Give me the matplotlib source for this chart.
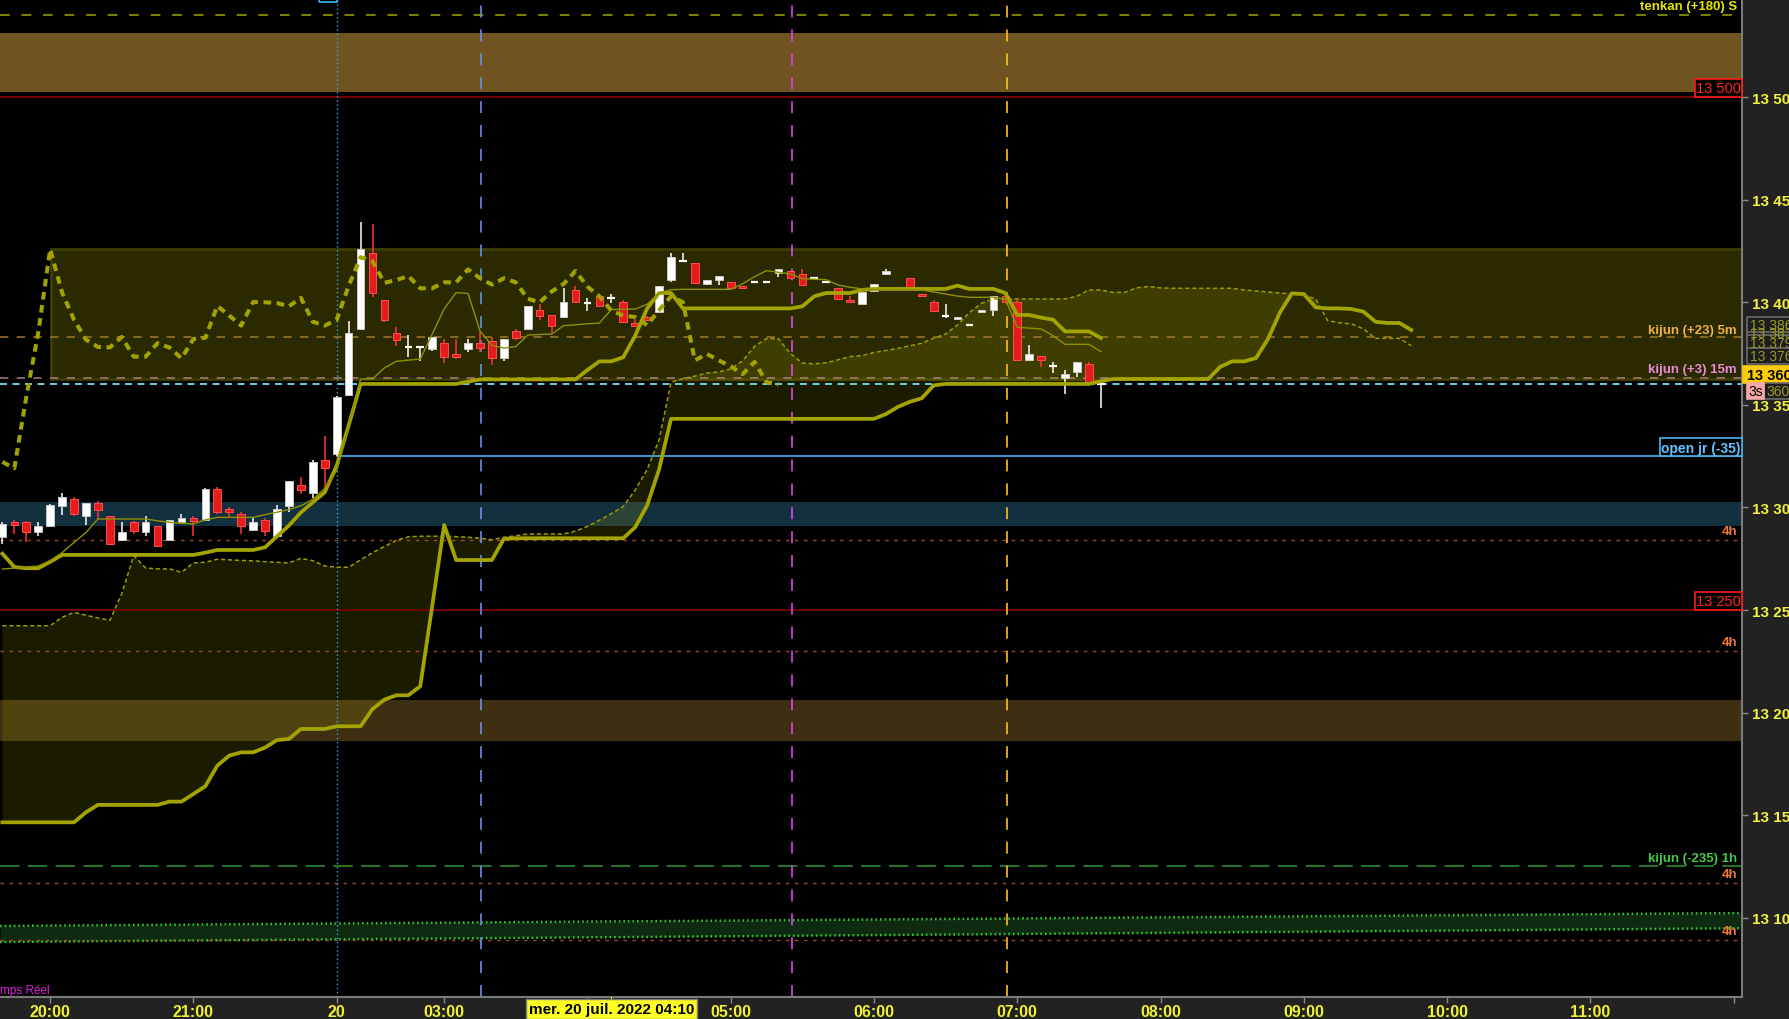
import matplotlib
matplotlib.use('Agg')
import matplotlib.pyplot as plt
from matplotlib.patches import Rectangle
import numpy as np

plt.rcParams['lines.scale_dashes'] = False
plt.rcParams['font.family'] = ['Liberation Sans', 'DejaVu Sans']
NARROW = ['Liberation Sans', 'DejaVu Sans']

# ---------------------------------------------------------------- data
# 5-minute bars, x = slot index (slot 0 = 20:00, slot 24 = day open "20")
bar_slot = list(range(-4, 71)) + list(range(72, 89))

opens = [13285.5, 13293.1, 13292.8, 13288.2, 13291.1, 13300.6, 13304.1, 13296.0, 13302.2, 13295.7,
         13284.3, 13292.9, 13288.2, 13290.8, 13284.3, 13292.8, 13294.9, 13294.1, 13309.0, 13299.3,
         13296.8, 13289.2, 13293.9, 13286.3, 13300.6, 13311.0, 13307.1, 13323.1, 13326.1, 13355.0,
         13387.0, 13424.0, 13401.1, 13385.0, 13378.2, 13378.0, 13377.4, 13380.1, 13374.8, 13377.4,
         13380.1, 13381.1, 13373.0, 13385.8, 13387.1, 13396.2, 13393.8, 13393.0, 13406.0, 13399.6,
         13402.9, 13402.2, 13400.0, 13389.7, 13392.8, 13395.4, 13410.8, 13419.9, 13419.1, 13408.9,
         13410.8, 13409.9, 13407.8, 13409.7, 13409.7, 13414.1, 13415.1, 13413.8, 13411.7, 13409.7,
         13406.8, 13401.3, 13399.2, 13405.3, 13413.9, 13411.7, 13403.9, 13400.1, 13393.5, 13391.8,
         13388.8, 13395.4, 13396.4, 13402.9, 13400.0, 13372.0, 13373.6, 13368.8, 13363.3, 13366.2,
         13369.8, 13360.0]
highs = [13292.8, 13294.1, 13293.6, 13293.1, 13301.7, 13307.1, 13305.0, 13302.2, 13303.3, 13296.0,
         13293.1, 13293.6, 13295.7, 13291.1, 13294.1, 13296.8, 13296.0, 13309.3, 13309.8, 13300.1,
         13297.6, 13294.7, 13294.7, 13301.2, 13313.1, 13314.7, 13323.3, 13334.8, 13354.2, 13390.7,
         13438.9, 13438.1, 13401.3, 13387.8, 13384.0, 13378.0, 13383.2, 13382.1, 13382.1, 13382.1,
         13385.3, 13382.9, 13382.1, 13387.0, 13398.3, 13399.0, 13393.8, 13406.8, 13407.8, 13402.2,
         13403.9, 13404.0, 13401.1, 13391.8, 13393.5, 13407.9, 13424.0, 13424.0, 13419.1, 13410.8,
         13412.8, 13409.9, 13407.8, 13409.7, 13409.7, 13416.0, 13415.1, 13416.2, 13411.7, 13409.7,
         13406.8, 13403.2, 13405.2, 13408.9, 13416.2, 13411.7, 13403.9, 13401.1, 13399.2, 13392.8,
         13388.8, 13396.2, 13403.2, 13402.9, 13401.1, 13379.2, 13373.6, 13371.0, 13367.2, 13370.9,
         13370.7, 13360.0]
lows = [13282.2, 13287.1, 13283.0, 13286.0, 13290.8, 13296.5, 13295.7, 13291.5, 13294.4, 13281.9,
        13283.8, 13287.1, 13286.0, 13280.9, 13284.2, 13292.4, 13286.0, 13293.6, 13296.8, 13294.7,
        13287.1, 13288.7, 13286.0, 13286.0, 13297.6, 13306.6, 13304.5, 13309.0, 13325.3, 13354.5,
        13386.6, 13402.7, 13390.5, 13378.8, 13373.5, 13371.5, 13376.1, 13370.4, 13372.4, 13375.9,
        13375.6, 13369.6, 13371.5, 13381.8, 13386.6, 13391.5, 13384.5, 13392.5, 13399.6, 13395.9,
        13397.7, 13399.6, 13390.2, 13388.6, 13391.0, 13395.4, 13409.7, 13419.8, 13409.5, 13408.4,
        13408.4, 13406.8, 13406.8, 13409.7, 13409.7, 13412.5, 13411.7, 13408.6, 13411.7, 13409.7,
        13401.7, 13400.0, 13398.7, 13404.8, 13413.3, 13407.6, 13402.9, 13395.1, 13392.3, 13391.5,
        13388.8, 13394.8, 13393.5, 13400.0, 13371.4, 13371.5, 13368.6, 13365.5, 13355.3, 13363.7,
        13360.7, 13348.6]
closes = [13292.0, 13291.6, 13287.9, 13290.8, 13301.2, 13305.0, 13296.7, 13302.2, 13298.9, 13282.1,
          13288.2, 13288.7, 13292.8, 13281.1, 13293.9, 13294.9, 13293.6, 13309.0, 13297.6, 13297.6,
          13290.8, 13293.1, 13288.7, 13299.3, 13312.9, 13308.7, 13322.2, 13319.1, 13353.8, 13385.0,
          13425.9, 13404.7, 13391.5, 13381.8, 13378.2, 13378.0, 13383.1, 13373.5, 13373.5, 13380.1,
          13377.9, 13372.7, 13382.1, 13382.7, 13398.2, 13393.5, 13388.6, 13400.1, 13400.0, 13399.6,
          13398.0, 13402.2, 13390.5, 13388.6, 13391.5, 13407.9, 13422.0, 13419.9, 13409.5, 13410.8,
          13412.8, 13406.8, 13406.8, 13409.7, 13409.7, 13416.0, 13411.7, 13408.6, 13411.7, 13409.7,
          13401.7, 13400.0, 13405.2, 13408.9, 13415.2, 13407.6, 13402.9, 13395.9, 13393.5, 13392.8,
          13388.8, 13396.2, 13402.9, 13400.0, 13371.7, 13374.8, 13371.7, 13368.8, 13365.0, 13370.9,
          13361.0, 13360.0]

tenkan = [13270.0, 13270.5, 13271.0, 13271.5, 13274.0, 13278.0, 13283.0, 13287.8, 13294.4, 13294.4,
          13294.4, 13294.4, 13294.4, 13293.5, 13292.8, 13292.3, 13292.0, 13294.0, 13295.2, 13295.2,
          13295.2, 13295.2, 13296.5, 13297.7, 13299.0, 13300.8, 13304.0, 13309.3, 13318.0, 13340.0,
          13362.6, 13362.6, 13368.0, 13371.2, 13371.8, 13372.3, 13384.5, 13396.7, 13404.7, 13404.3,
          13386.0, 13379.0, 13377.7, 13378.4, 13384.0, 13384.3, 13384.5, 13388.6, 13389.0, 13389.5,
          13389.9, 13396.4, 13396.6, 13396.7, 13399.0, 13404.5, 13406.1, 13406.3, 13406.3, 13406.3,
          13406.3, 13406.3, 13409.0, 13412.5, 13415.4, 13414.6, 13413.8, 13411.5, 13411.2, 13411.0,
          13408.4, 13407.3, 13406.5, 13406.1, 13406.1, 13406.1, 13406.0, 13405.0, 13404.0, 13403.0,
          13402.4, 13402.4, 13402.4, 13401.6, 13387.8, 13387.4, 13387.0, 13383.7, 13379.5, 13379.5,
          13379.5, 13376.0]
kijun = [13277.5, 13271.0, 13270.4, 13270.4, 13273.5, 13276.9, 13276.9, 13276.9, 13276.9, 13276.9,
         13276.9, 13276.9, 13276.9, 13276.9, 13276.9, 13276.9, 13276.9, 13278.0, 13279.3, 13279.3,
         13279.3, 13279.3, 13280.6, 13286.0, 13291.2, 13297.6, 13302.5, 13307.4, 13320.4, 13340.0,
         13360.2, 13360.2, 13360.2, 13360.2, 13360.2, 13360.2, 13360.2, 13360.2, 13360.2, 13361.3,
         13362.4, 13362.4, 13362.4, 13362.4, 13362.4, 13362.4, 13362.4, 13362.4, 13362.4, 13367.0,
         13371.2, 13371.2, 13373.2, 13383.7, 13397.0, 13404.5, 13404.5, 13397.0, 13397.0, 13397.0,
         13397.0, 13397.0, 13397.0, 13397.0, 13397.0, 13397.0, 13397.0, 13398.0, 13402.9, 13404.5,
         13404.5, 13404.5, 13406.0, 13406.5, 13406.5, 13406.5, 13406.5, 13406.5, 13406.5, 13408.1,
         13406.5, 13406.5, 13406.5, 13404.5, 13393.8, 13393.8, 13392.5, 13391.5, 13385.8, 13385.8,
         13385.8, 13382.6]

senkou_slot = list(range(-4, 115))
senkou_a = [13242.4, 13242.4, 13242.4, 13242.4, 13242.4, 13246.5, 13248.9, 13247.5, 13246.2, 13245.0,
            13258.0, 13276.5, 13270.5, 13270.1, 13270.1, 13268.4, 13273.0, 13273.3, 13274.8, 13274.5,
            13274.2, 13274.0, 13273.6, 13273.3, 13273.0, 13275.2, 13274.1, 13271.5, 13270.9, 13270.9,
            13274.5, 13278.0, 13281.0, 13284.0, 13285.7, 13286.0, 13286.0, 13286.0, 13285.8, 13285.5,
            13285.0, 13284.3, 13285.5, 13286.2, 13287.1, 13287.1, 13287.1, 13287.1, 13288.5, 13290.8,
            13293.8, 13297.0, 13300.5, 13308.5, 13318.5, 13333.0, 13361.0, 13362.8, 13364.0, 13365.5,
            13366.0, 13367.5, 13371.5, 13378.5, 13382.3, 13382.2, 13375.0, 13370.4, 13370.0, 13370.5,
            13372.0, 13373.5, 13374.0, 13375.5, 13376.5, 13377.5, 13378.8, 13380.0, 13382.5, 13384.5,
            13389.0, 13395.0, 13399.5, 13401.6, 13401.6, 13401.6, 13401.6, 13401.6, 13401.6, 13401.6,
            13403.0, 13406.0, 13406.0, 13404.8, 13404.8, 13407.0, 13407.7, 13407.0, 13406.8, 13406.8,
            13406.8, 13406.8, 13406.8, 13406.8, 13406.0, 13405.5, 13405.0, 13404.5, 13404.0, 13403.5,
            13401.6, 13391.0, 13390.0, 13389.4, 13387.0, 13382.4, 13382.4, 13382.4, 13378.8]
senkou_b = [13146.6, 13146.6, 13146.6, 13146.6, 13146.6, 13146.6, 13146.6, 13151.5, 13155.1, 13155.1,
            13155.1, 13155.1, 13155.1, 13155.1, 13156.7, 13156.7, 13160.4, 13164.2, 13174.2, 13179.1,
            13180.7, 13180.7, 13183.0, 13186.7, 13187.2, 13192.1, 13192.1, 13192.1, 13193.4, 13193.4,
            13193.4, 13201.8, 13206.4, 13208.5, 13208.5, 13212.9, 13252.0, 13291.5, 13274.4, 13274.4,
            13274.4, 13274.4, 13284.7, 13285.0, 13285.0, 13285.0, 13285.0, 13285.0, 13285.0, 13285.0,
            13285.0, 13285.0, 13285.0, 13290.4, 13301.0, 13318.5, 13343.2, 13343.2, 13343.2, 13343.2,
            13343.2, 13343.2, 13343.2, 13343.2, 13343.2, 13343.2, 13343.2, 13343.2, 13343.2, 13343.2,
            13343.2, 13343.2, 13343.2, 13343.2, 13345.5, 13349.0, 13351.5, 13353.2, 13359.5, 13360.2,
            13360.2, 13360.2, 13360.2, 13360.2, 13360.2, 13360.2, 13360.2, 13360.2, 13360.2, 13360.2,
            13360.2, 13360.2, 13361.5, 13362.6, 13362.6, 13362.6, 13362.6, 13362.6, 13362.6, 13362.6,
            13362.6, 13362.6, 13368.5, 13371.2, 13371.2, 13372.8, 13382.1, 13395.0, 13404.3, 13404.0,
            13397.5, 13397.0, 13397.0, 13396.7, 13395.4, 13390.5, 13389.9, 13389.9, 13386.5]
chikou_shift = 26

hour_slots = [0, 12, 24, 33, 45, 57, 69, 81, 93, 105, 117, 129, 141]
hour_labels = ['20:00', '21:00', '20', '03:00', '', '05:00', '06:00', '07:00',
               '08:00', '09:00', '10:00', '11:00', '']
price_ticks = [13100, 13150, 13200, 13250, 13300, 13350, 13400, 13450, 13500]

level_tenkan_s = 13539.8
band_top = (13502.6, 13531.2)
level_red = [13500, 13250]
zone_box = (0.1, 13362.5, 13426.0)
kijun_5m = 13382.9
kijun_15m = 13363.3
last_price = 13360
open_jr = 13325
open_slot = 24
band_blue = (13290.9, 13302.6)
h4_levels = [13284.1, 13229.9, 13116.9, 13089.1]
band_low = (13186.2, 13206.2)
kijun_1h = 13125.2
chan_top = [13096.1, 13102.4]
chan_bot = [13088.3, 13095.0]
vline_day = 24
vline_blue = 36.05
vline_magenta = 62.15
vline_gold = 80.1
cursor_slot = 47

# ---------------------------------------------------------------- figure
W, H = 1790, 1020
AXR, AXB = 1742, 998
fig = plt.figure(figsize=(W / 100, H / 100), dpi=100, facecolor='#222222')
ax = fig.add_axes([0, (H - AXB) / H, AXR / W, AXB / H])
ax.set_facecolor('black')
X0, X1 = -4.2, 141.7
Y0, Y1 = 13061.5, 13547.75
ax.set_xlim(X0, X1)
ax.set_ylim(Y0, Y1)


def ypix(price):
    """pixel row (from top) of a price, via the axes transform"""
    return H - ax.transData.transform((0, price))[1]


def xpix(slot):
    return ax.transData.transform((slot, 0))[0]


def frect(x0, y0, x1, y1, **kw):
    fig.patches.append(Rectangle((x0 / W, 1 - y1 / H), (x1 - x0) / W, (y1 - y0) / H,
                                 transform=fig.transFigure, **kw))


def ftext(x, y, s, **kw):
    fig.text(x / W, 1 - y / H, s, **kw)


# background bands
ax.axhspan(*band_top, color='#6f5320', lw=0, zorder=0.5)
ax.axhspan(*band_blue, color='#13303f', lw=0, zorder=0.5)
ax.axhspan(*band_low, color='#3f2f12', lw=0, zorder=0.5)

# zone box
zx, zb, zt = zone_box
ax.add_patch(Rectangle((zx, zb), X1 - zx, zt - zb, facecolor='#2a2900',
                       edgecolor='#3d3d00', lw=2, zorder=0.8))

# green channel
ax.fill_between([X0, X1], chan_bot, chan_top, color='#0e2a10', lw=0, zorder=0.9)
for ys in (chan_top, chan_bot):
    ax.plot([X0, X1], ys, color='#2fc62f', lw=1.8, ls=(0, (1.2, 2.1)), zorder=1.0)

# ichimoku cloud
sa = np.array(senkou_a)
sb = np.array(senkou_b)
ax.fill_between(senkou_slot, sa, sb, where=sa >= sb, interpolate=True,
                color='#c2c200', alpha=0.14, lw=0, zorder=1.2)

# horizontal levels
ax.axhline(level_tenkan_s, color='#7d7d00', lw=1.5, ls=(0, (7, 8.5)), zorder=1.5)
for lv in level_red:
    ax.axhline(lv, color='#7e0000', lw=1.3, zorder=1.5)
ax.axhline(kijun_5m, color='#a07a2c', lw=1.1, ls=(0, (6, 6)), zorder=1.5)
ax.axhline(kijun_15m, color='#a88080', lw=1.1, ls=(0, (6, 6)), zorder=1.5)
ax.axhline(last_price, color='#72e2f2', lw=1.3, ls=(0, (5, 4)), zorder=1.6)
ax.plot([open_slot, X1], [open_jr, open_jr], color='#4cb4ee', lw=1.2, zorder=1.5)
for lv in h4_levels:
    ax.axhline(lv, color='#a2482a', lw=1.0, ls=(0, (2.5, 4)), zorder=1.5)
ax.axhline(kijun_1h, color='#2c8a2c', lw=1.2, ls=(0, (14, 6)), zorder=1.5)

# vertical markers
ax.axvline(vline_day, color='#3ea6de', lw=1.0, ls=(0, (1, 2)), zorder=1.7)
ax.axvline(vline_blue, color='#6a90e4', lw=1.2, ls=(0, (8.6, 8.6)), zorder=1.7)
ax.axvline(vline_magenta, color='#e444ec', lw=1.2, ls=(0, (8.6, 8.6)), zorder=1.7)
ax.axvline(vline_gold, color='#ffc020', lw=1.2, ls=(0, (8.6, 8.6)), zorder=1.7)

# candles
xs = np.array(bar_slot, dtype=float)
o = np.array(opens); h = np.array(highs); l = np.array(lows); c = np.array(closes)
up = c >= o
body_lo = np.minimum(o, c)
body_h = np.abs(c - o)
BW = 0.64
ax.vlines(xs[up], l[up], h[up], color='white', lw=1.1, zorder=4)
ax.vlines(xs[~up], l[~up], h[~up], color='#ff3434', lw=1.1, zorder=4)
flat = body_h < 0.4
ax.bar(xs[up & ~flat], body_h[up & ~flat], bottom=body_lo[up & ~flat], width=BW,
       color='white', edgecolor='#cfcfcf', lw=0.6, zorder=4.2)
ax.bar(xs[~up & ~flat], body_h[~up & ~flat], bottom=body_lo[~up & ~flat], width=BW,
       color='#e41c1c', edgecolor='#ff4e4e', lw=0.7, zorder=4.2)
ax.hlines(c[flat], xs[flat] - BW / 2, xs[flat] + BW / 2, color='white', lw=1.6, zorder=4.3)

# ichimoku lines
OL = '#a4a400'
ax.plot(senkou_slot, senkou_b, color=OL, lw=2.7, solid_joinstyle='round', zorder=5)
ax.plot(senkou_slot, senkou_a, color='#9a9a00', lw=1.1, ls=(0, (3, 2)), zorder=5)
ax.plot(bar_slot, kijun, color=OL, lw=2.7, solid_joinstyle='round', zorder=5.2)
ax.plot(bar_slot, tenkan, color='#909000', lw=1.0, zorder=5.3)
ax.plot(bar_slot[:-chikou_shift], closes[chikou_shift:], color='#a2a200', lw=2.9,
        ls=(0, (5.5, 4)), zorder=5.4)

# axes styling
for s in ('top', 'left'):
    ax.spines[s].set_visible(False)
for s in ('right', 'bottom'):
    ax.spines[s].set_color('#7a7a7a')
    ax.spines[s].set_linewidth(1.5)
ax.yaxis.tick_right()
ax.set_yticks(price_ticks, [f'{v // 1000} {v % 1000:03d}' for v in price_ticks],
              fontweight='bold', fontsize=11)
ax.tick_params(axis='y', colors='#8a8a8a', length=4, width=1, labelcolor='#f2f23c', pad=3)
ax.set_xticks(hour_slots, hour_labels, fontfamily=NARROW, fontweight='bold', fontsize=11.5)
ax.tick_params(axis='x', colors='#8a8a8a', length=4, width=1, labelcolor='#f0f032', pad=1)

# ---------------------------------------------------------------- labels (right side)
RX = 1737
lab = dict(ha='right', va='center', fontweight='bold', fontsize=9.5)
ftext(RX, ypix(level_tenkan_s) - 9, 'tenkan (+180) S', color='#e6e600', **lab)
ftext(RX, ypix(kijun_5m) - 7, 'kijun (+23) 5m', color='#f0b048', **lab)
ftext(RX, ypix(kijun_15m) - 9, 'kijun (+3) 15m', color='#ea8ad8', **lab)
for lv in h4_levels:
    ftext(RX, ypix(lv) - 9, '4h', color='#f2783a', **lab)
ftext(RX, ypix(kijun_1h) - 8, 'kijun (-235) 1h', color='#48c848', **lab)


def boxed(x0, y0, x1, y1, s, fc, ec, tc, fs=10, weight='normal', ha='center', tx=None):
    frect(x0, y0, x1, y1, facecolor=fc, edgecolor=ec, lw=1.2, zorder=5)
    ftext(tx if tx is not None else (x0 + x1) / 2, (y0 + y1) / 2 + 0.5, s, color=tc,
          ha=ha, va='center', fontsize=fs, fontweight=weight, zorder=6)


for lv in level_red:
    yb = ypix(lv)
    boxed(1695, yb - 18.5, AXR, yb, f'{lv // 1000} {lv % 1000:03d}', 'black', '#ff1a1a', '#ff2424',
          fs=10.5)
yo = ypix(open_jr)
boxed(1660, yo - 18, AXR, yo, 'open jr (-35)', 'black', '#4cb4ee', '#5cc4ff', fs=10, weight='bold')

# value tags on the price scale
boxed(1747, 326, 1795, 341, '13 383', '#1e1e1e', '#6a6a6a', '#9a9a24', fs=10, ha='left', tx=1750)
boxed(1747, 318, 1795, 333, '13 386', '#1e1e1e', '#6a6a6a', '#9a9a24', fs=10, ha='left', tx=1750)
boxed(1747, 336, 1795, 351, '13 379', '#1e1e1e', '#6a6a6a', '#9a9a24', fs=10, ha='left', tx=1750)
boxed(1747, 349, 1795, 365, '13 376', '#1e1e1e', '#6a6a6a', '#9a9a24', fs=10, ha='left', tx=1750)
boxed(1743, 367, 1795, 384, '13 360', '#ffcc00', '#ffcc00', 'black', fs=10.5, weight='bold',
      ha='left', tx=1747)
boxed(1764, 384, 1795, 400, '360', '#1e1e1e', '#6a6a6a', '#9a9a24', fs=10, ha='left', tx=1766)
boxed(1747, 384, 1764, 400, '3s', '#f5a8a8', '#f5a8a8', 'black', fs=10)

# small marker at the top of the day line
frect(xpix(vline_day) - 18, -2, xpix(vline_day), 3, facecolor='none', edgecolor='#3cb4ff', lw=1.2)

# cursor date on the time axis
cx = xpix(cursor_slot)
frect(cx, AXB, cx + 1, AXB + 5, facecolor='#ffff30', edgecolor='none')
ftext(cx, 1010, 'mer. 20 juil. 2022 04:10', ha='center', va='center', color='black',
      fontsize=11, fontweight='bold', family=NARROW,
      bbox=dict(boxstyle='square,pad=0.18', fc='#ffff24', ec='#7a7a7a', lw=1))

ftext(0, 991, 'mps Réel', ha='left', va='center', color='#e020e0', fontsize=8.5)

fig.savefig('out.png', dpi=100, facecolor=fig.get_facecolor())
